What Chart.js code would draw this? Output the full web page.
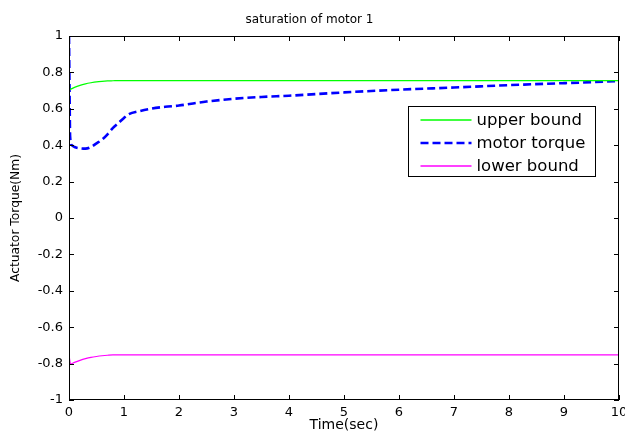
<!DOCTYPE html>
<html>
<head>
<meta charset="utf-8">
<script src="https://cdn.jsdelivr.net/npm/chart.js@4.4.1/dist/chart.umd.min.js"></script>
<style>
  body { margin: 0; background: #fff; }
  #wrap { width: 625px; height: 437px; }
</style>
</head>
<body>
<div id="wrap"><canvas id="myChart" width="625" height="437"></canvas></div>
<script>
// time axis (sec) and values
let timeUpper = [0, 0.1, 0.2, 0.3, 0.4, 0.5, 0.6, 0.7, 0.8, 0.9, 1.0, 10];
let upperBound = [0.703, 0.718, 0.729, 0.737, 0.743, 0.748, 0.751, 0.753, 0.754, 0.755, 0.755, 0.755];

let timeLower = [0, 0.03, 0.1, 0.2, 0.3, 0.4, 0.5, 0.6, 0.7, 0.8, 1.0, 10];
let lowerBound = [-0.755, -0.802, -0.793, -0.782, -0.773, -0.766, -0.761, -0.757, -0.754, -0.752, -0.752, -0.752];

let timeTorque = [0, 0.01, 0.02, 0.05, 0.1, 0.2, 0.3, 0.4, 0.5, 0.6, 0.7, 0.8, 0.9, 1.0, 1.1, 1.25, 1.5, 1.75, 2, 2.5, 3, 3.5, 4, 5, 6, 7, 8, 9, 10];
let motorTorque = [1.0, 0.7, 0.45, 0.40, 0.39, 0.383, 0.381, 0.39, 0.41, 0.43, 0.46, 0.495, 0.522, 0.55, 0.572, 0.585, 0.601, 0.611, 0.618, 0.64, 0.655, 0.665, 0.672, 0.69, 0.705, 0.717, 0.73, 0.741, 0.752];

let legendLabels = ['upper bound', 'motor torque', 'lower bound'];
let lineColors = ['#00ff00', '#0000ff', '#ff00ff'];
let lineWidths = [1.2, 2.6, 1.2];
let lineDashes = [[], [8, 4], []];

function toPoints(xs, ys) {
    return xs.map((t, i) => ({x: t, y: ys[i]}));
}

// box round the plot, inward ticks on all sides, and the legend inside the plot
const boxPlugin = {
    id: 'box',
    afterDatasetsDraw(chart) {
        const {ctx, chartArea: a, scales: {x, y}} = chart;
        ctx.save();
        ctx.strokeStyle = '#000';
        ctx.lineWidth = 1;
        ctx.strokeRect(a.left + 0.5, a.top + 0.5, a.width - 1, a.height - 1);
        ctx.beginPath();
        x.ticks.forEach(t => {
            const px = Math.round(x.getPixelForValue(t.value)) + 0.5;
            ctx.moveTo(px, a.bottom); ctx.lineTo(px, a.bottom - 5);
            ctx.moveTo(px, a.top); ctx.lineTo(px, a.top + 5);
        });
        y.ticks.forEach(t => {
            const py = Math.round(y.getPixelForValue(t.value)) + 0.5;
            ctx.moveTo(a.left, py); ctx.lineTo(a.left + 5, py);
            ctx.moveTo(a.right, py); ctx.lineTo(a.right - 5, py);
        });
        ctx.stroke();

        // legend
        const lx = 408.5, ly = 106.5, lw = 187, lh = 70;
        ctx.fillStyle = '#fff';
        ctx.fillRect(lx, ly, lw, lh);
        ctx.strokeRect(lx, ly, lw, lh);
        ctx.font = '16.5px "DejaVu Sans"';
        ctx.textBaseline = 'middle';
        legendLabels.forEach((label, i) => {
            const ry = Math.round(ly + 13 + i * 23);
            ctx.save();
            ctx.strokeStyle = lineColors[i];
            ctx.lineWidth = i === 1 ? 2.6 : 1.4;
            ctx.setLineDash(lineDashes[i]);
            ctx.beginPath();
            ctx.moveTo(lx + 12, ry);
            ctx.lineTo(lx + 63, ry);
            ctx.stroke();
            ctx.restore();
            ctx.fillStyle = '#000';
            ctx.fillText(label, lx + 68, ry + 1);
        });
        ctx.restore();
    }
};

const chart = document.getElementById('myChart').getContext('2d');

const myChart = new Chart(chart, {
    type: 'line',
    data: {
        datasets: [
            toPoints(timeUpper, upperBound),
            toPoints(timeTorque, motorTorque),
            toPoints(timeLower, lowerBound)
        ].map((pts, i) => ({
            label: legendLabels[i],
            data: pts,
            borderColor: lineColors[i],
            borderWidth: lineWidths[i],
            borderDash: lineDashes[i],
            pointRadius: 0,
            cubicInterpolationMode: 'monotone'
        }))
    },
    options: {
        responsive: false,
        animation: false,
        layout: { padding: { left: 0, right: 6, top: 0, bottom: 0 } },
        plugins: {
            legend: { display: false },
            tooltip: { enabled: false },
            title: {
                display: true,
                text: 'saturation of motor 1',
                color: '#000',
                font: { family: 'DejaVu Sans', size: 12, weight: 'normal' },
                padding: { top: 13, bottom: 8.6 }
            }
        },
        scales: {
            x: {
                type: 'linear',
                min: 0,
                max: 10,
                grid: { display: false, drawTicks: false },
                border: { display: false },
                ticks: { stepSize: 1, padding: 5, color: '#000', font: { family: 'DejaVu Sans', size: 13 }, maxRotation: 0 },
                title: {
                    display: true,
                    text: 'Time(sec)',
                    color: '#000',
                    font: { family: 'DejaVu Sans', size: 14 },
                    padding: { top: 0, bottom: 3 }
                },
                afterFit(scale) {
                    scale.height = 37;
                    scale.paddingLeft = 0;
                    scale.paddingRight = 0;
                }
            },
            y: {
                min: -1,
                max: 1,
                grid: { display: false, drawTicks: false },
                border: { display: false },
                ticks: {
                    stepSize: 0.2,
                    padding: 6,
                    color: '#000',
                    font: { family: 'DejaVu Sans', size: 13 },
                    callback: v => String(Math.round(v * 10) / 10)
                },
                title: {
                    display: true,
                    text: 'Actuator Torque(Nm)',
                    color: '#000',
                    font: { family: 'DejaVu Sans', size: 12.3 },
                    padding: { top: 8.5, bottom: 0 }
                },
                afterFit(scale) {
                    scale.width = 69;
                    scale.paddingTop = 0;
                    scale.paddingBottom = 0;
                }
            }
        }
    },
    plugins: [boxPlugin]
});
</script>
</body>
</html>
